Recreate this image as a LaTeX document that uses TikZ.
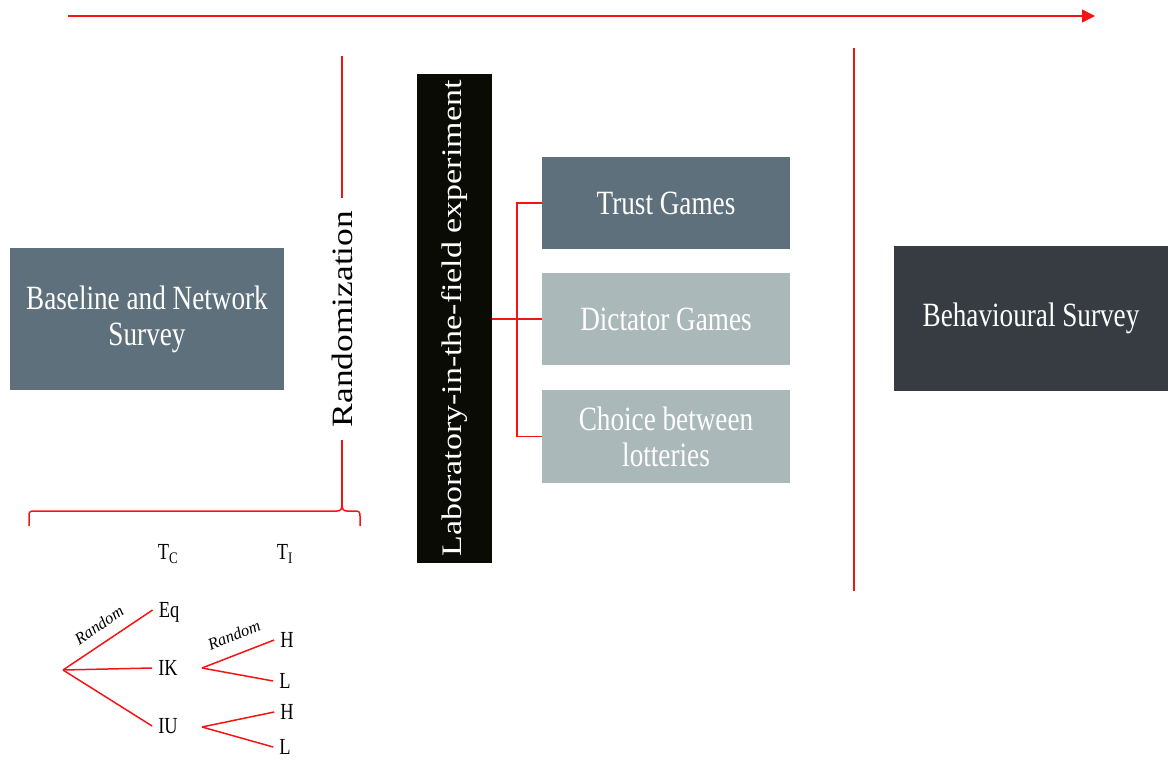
\documentclass[tikz,border=0pt]{standalone}
\usepackage{fontspec}
\usepackage{graphicx}
\setmainfont{Liberation Serif}[FakeStretch=0.8]
\newfontfamily\widefont{Liberation Serif}[FakeStretch=1.2]
\newfontfamily\plainfont{Liberation Serif}
\usetikzlibrary{arrows.meta}
\definecolor{midgray}{HTML}{5E707B}
\definecolor{lightgray}{HTML}{AAB8B9}
\definecolor{darkgray}{HTML}{363C42}
\definecolor{nearblack}{HTML}{0B0B06}
\definecolor{lred}{HTML}{F41414}
\begin{document}
\begin{tikzpicture}[x=1pt,y=-1pt,
  box/.style={inner sep=0pt, outer sep=0pt, anchor=north west, text=white, align=center, font=\fontsize{34}{36}\selectfont},
  redline/.style={draw=lred, line width=1.5pt},
  lbl/.style={inner xsep=6pt, inner ysep=0pt, text height=15pt, text depth=0pt, font=\fontsize{23}{25}\selectfont},
  rndlbl/.style={inner sep=0pt, font=\plainfont\itshape\fontsize{16.5}{18}\selectfont}
]
\useasboundingbox (0,0) rectangle (1168,760);

% top timeline arrow
\coordinate (a1) at (68,16);
\coordinate (a2) at (1095,16);
\draw[redline, -{Triangle[length=13pt,width=13pt]}] (a1) -- (a2);

% boxes
\node[box, fill=midgray, minimum width=274pt, minimum height=142pt] (base) at (10,248) {Baseline and Network\\Survey};
\node[box, fill=nearblack, minimum width=75pt, minimum height=489pt] (lab) at (417,74)
  {\rotatebox{90}{\widefont\fontsize{28.3}{30}\selectfont Laboratory-in-the-field experiment}};
\node[box, fill=midgray, minimum width=248pt, minimum height=92pt] (trust) at (542,157) {Trust Games};
\node[box, fill=lightgray, minimum width=248pt, minimum height=92pt] (dict) at (542,273) {Dictator Games};
\node[box, fill=lightgray, minimum width=248pt, minimum height=93pt] (choice) at (542,390) {Choice between\\lotteries};
\node[box, fill=darkgray, minimum width=274pt, minimum height=145pt] (behav) at (894,246) {Behavioural Survey};

% randomization
\node[inner xsep=0pt, inner ysep=13pt] (rand) at (342,319)
  {\rotatebox{90}{\widefont\fontsize{29.5}{31}\selectfont Randomization}};
\coordinate (rtop) at (342,56);
\coordinate (btip) at (342,503);
\draw[redline] (rtop) -- (rand.north);
\draw[redline] (rand.south) -- (btip);

% brace
\draw[redline] (29,526) -- (29,516) .. controls (29,512) and (30,511) .. (34,511) -- (337,511)
  .. controls (341,511) and (342,509) .. (btip)
  .. controls (342,509) and (343,511) .. (347,511) -- (355,511)
  .. controls (359,511) and (360,512) .. (360,516) -- (360,526);

% bracket to games
\coordinate (jx) at (517,319);
\draw[redline] (lab.east |- dict.west) -- (dict.west);
\draw[redline] (trust.west) -- (trust.west -| jx) -- (choice.west -| jx) -- (choice.west);

% vertical separator
\coordinate (v1) at (854,48);
\coordinate (v2) at (854,591);
\draw[redline] (v1) -- (v2);

% treatment tree
\node[lbl] (tc) at (168,552) {T\textsubscript{C}};
\node[lbl] (ti) at (285,552) {T\textsubscript{I}};
\node[lbl] (eq) at (169,610) {Eq};
\node[lbl] (ik) at (168,668) {IK};
\node[lbl] (iu) at (168,726) {IU};
\node[lbl] (h1) at (287,640) {H};
\node[lbl] (l1) at (285,681) {L};
\node[lbl] (h2) at (287,712) {H};
\node[lbl] (l2) at (285,747) {L};

\coordinate (root) at (63,670);
\coordinate (f1) at (202,668);
\coordinate (f2) at (202,727);
\draw[redline] (root) -- (eq.west);
\draw[redline] (root) -- (ik.west);
\draw[redline] (root) -- (iu.west);
\draw[redline] (f1) -- (h1.west);
\draw[redline] (f1) -- (l1.west);
\draw[redline] (f2) -- (h2.west);
\draw[redline] (f2) -- (l2.west);

\node[rndlbl] (r1) at (99,625) {\rotatebox{34}{Random}};
\node[rndlbl] (r2) at (234,635) {\rotatebox{22}{Random}};
\end{tikzpicture}
\end{document}
